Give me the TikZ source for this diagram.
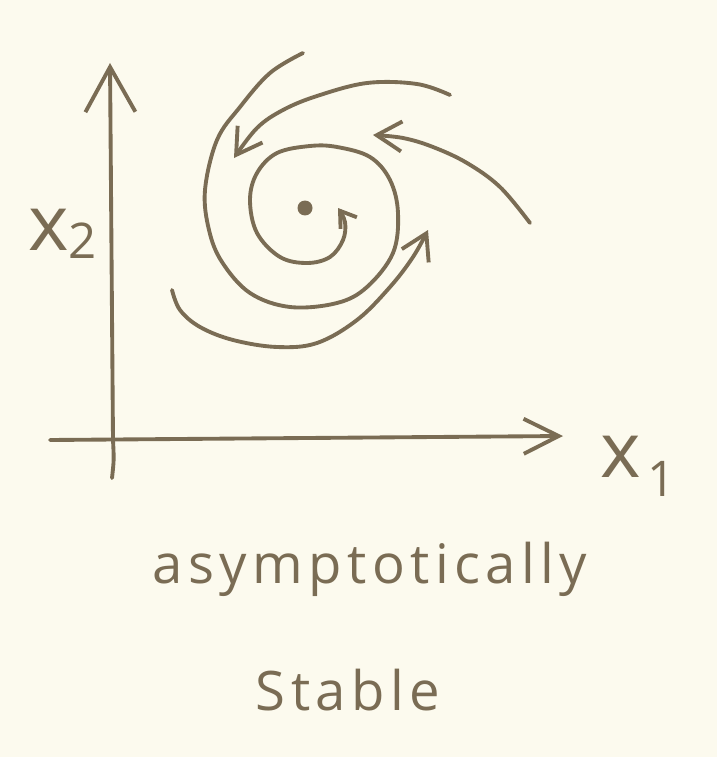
\documentclass[tikz,border=0pt]{standalone}
\usepackage{fontspec}
\setmainfont{Open Sans}
\definecolor{sketchPaper}{RGB}{252,250,238}
\definecolor{sketchLead}{RGB}{122,108,84}
\usetikzlibrary{arrows.meta}

\begin{document}
\begin{tikzpicture}[x=0.02cm, y=-0.02cm,
  pencil/.style={draw=sketchLead, line width=2.2pt, line cap=round, line join=round},
  hand/.style={text=sketchLead, inner sep=0pt,
               font=\fontsize{31}{36}\selectfont\addfontfeature{LetterSpace=10}},
  axislbl/.style={text=sketchLead, inner sep=0pt, font=\fontsize{44}{48}\selectfont}
]
  % paper
  \fill[sketchPaper] (0,0) rectangle (717,757);
  \useasboundingbox (0,0) rectangle (717,757);

  % axes
  \draw[pencil, -{Straight Barb[length=9mm, width=10mm]}]
    (112,478) .. controls (114,460) .. (113,440) -- (110,63);
  \draw[pencil, -{Straight Barb[length=7mm, width=7mm]}]
    (50,440) -- (563,436);
  \node[axislbl, anchor=base west] (xtwo) at (28,250)
    {x\raisebox{-0.16cm}{\fontsize{28}{30}\selectfont 2}};
  \node[axislbl, anchor=base west] (xone) at (600,477)
    {x\hspace{4pt}\raisebox{-0.4cm}{\fontsize{28}{30}\selectfont 1}};

  % equilibrium
  \node[circle, fill=sketchLead, inner sep=0pt, minimum size=3mm] (eq) at (305,208) {};

  % spiral trajectory into the equilibrium
  \draw[pencil, -{Straight Barb[length=3mm, width=4mm]}] plot[smooth, tension=0.6] coordinates
    {(303,53) (270,73) (240,107) (217,140) (205,190) (209,230) (222,262) (250,293)
     (290,307) (337,303) (367,287) (393,253) (398,213) (390,180) (370,157) (337,147)
     (310,146) (277,153) (257,173) (250,200) (257,233) (280,257) (307,263) (330,257)
     (343,240) (345,222) (338,208)};

  % outer trajectories
  \draw[pencil, -{Straight Barb[length=5mm, width=6mm]}] plot[smooth, tension=0.6] coordinates
    {(450,95) (417,84) (367,83) (317,96) (283,110) (257,128) (234,158)};
  \draw[pencil, -{Straight Barb[length=5mm, width=6mm]}] plot[smooth, tension=0.6] coordinates
    {(530,223) (500,187) (467,163) (433,147) (403,138) (373,135)};
  \draw[pencil, -{Straight Barb[length=5mm, width=6mm]}] plot[smooth, tension=0.6] coordinates
    {(172,290) (180,310) (200,327) (233,340) (277,347) (317,343) (357,320) (390,287)
     (413,257) (428,230)};

  % caption
  \node[hand, anchor=base] (asym) at (370,583) {asymptotically};
  \node[hand, anchor=base] (stab) at (348,710) {Stable};
\end{tikzpicture}
\end{document}
